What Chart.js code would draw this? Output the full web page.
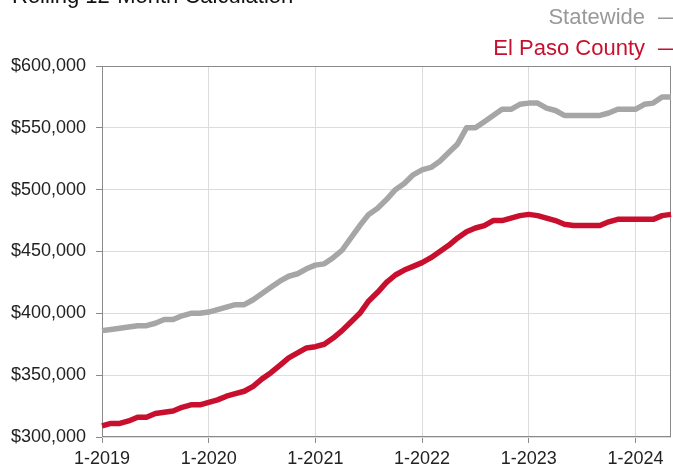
<!DOCTYPE html>
<html>
<head>
<meta charset="utf-8">
<script src="https://cdn.jsdelivr.net/npm/chart.js@4.4.1/dist/chart.umd.min.js"></script>
<style>
  body { margin: 0; background: #fff; }
  #wrap { position: relative; width: 673px; height: 466px; overflow: hidden; font-family: "Liberation Sans", Arial, sans-serif; }
  #wrap canvas { position: absolute; left: 0; top: 0; }
  .txt { position: absolute; font-size: 22px; line-height: 22px; white-space: nowrap; }
</style>
</head>
<body>
<div id="wrap">
  <canvas id="mychart" width="673" height="466"></canvas>
  <div class="txt" style="left:12px; top:-15px; color:#111;">Rolling 12-Month Calculation</div>
  <div class="txt" style="right:-7px; top:6px; color:#999;">Statewide<span style="margin-left:13px">—</span></div>
  <div class="txt" style="right:-7px; top:37px; color:#c8102e;">El Paso County<span style="margin-left:13px">—</span></div>
</div>
<script>
// months 1-2019 .. 5-2024
var years = [2019, 2020, 2021, 2022, 2023, 2024];
var months = [];
for (var y = 0; y < years.length; y++) {
    for (var m = 1; m <= 12; m++) {
        if (years[y] == 2024 && m > 5) break;
        months.push(m + '-' + years[y]);
    }
}

// median price, thousands of dollars
var statewide = [
    386, 387, 388, 389, 390, 390, 392, 395, 395, 398, 400, 400,
    401, 403, 405, 407, 407, 411, 416, 421, 426, 430, 432, 436,
    439, 440, 445, 451, 461, 471, 480, 485, 492, 500, 505, 512,
    516, 518, 523, 530, 537, 550, 550, 555, 560, 565, 565, 569,
    570, 570, 566, 564, 560, 560, 560, 560, 560, 562, 565, 565,
    565, 569, 570, 575, 575
];
var elPaso = [
    309, 311, 311, 313, 316, 316, 319, 320, 321, 324, 326, 326,
    328, 330, 333, 335, 337, 341, 347, 352, 358, 364, 368, 372,
    373, 375, 380, 386, 393, 400, 410, 417, 425, 431, 435, 438,
    441, 445, 450, 455, 461, 466, 469, 471, 475, 475, 477, 479,
    480, 479, 477, 475, 472, 471, 471, 471, 471, 474, 476, 476,
    476, 476, 476, 479, 480
];

var yTicks = [300000, 350000, 400000, 450000, 500000, 550000, 600000];

var toDollars = function (arr) {
    return arr.map(function (v) { return v * 1000; });
};

// frame round the plot area
var boxPlugin = {
    id: 'box',
    beforeDatasetsDraw: function (chart) {
        var a = chart.chartArea;
        var c = chart.ctx;
        c.save();
        c.strokeStyle = '#8a8a8a';
        c.lineWidth = 1;
        c.strokeRect(Math.round(a.left) + 0.5, Math.round(a.top) + 0.5,
            Math.round(a.right - a.left) - 1, Math.round(a.bottom - a.top) - 1);
        c.restore();
    }
};

var ctx = document.getElementById('mychart');
var chart = new Chart(ctx, {
    type: 'line',
    data: {
        labels: months,
        datasets: [{
            label: 'Statewide',
            data: toDollars(statewide),
            borderColor: '#a6a6a6',
            borderWidth: 5.5
        }, {
            label: 'El Paso County',
            data: toDollars(elPaso),
            borderColor: '#c8102e',
            borderWidth: 5.5
        }]
    },
    options: {
        responsive: false,
        animation: false,
        devicePixelRatio: 1,
        layout: { padding: { left: 0, right: 2, top: 66, bottom: 0 } },
        elements: {
            point: { radius: 0 },
            line: { tension: 0, borderJoinStyle: 'round' }
        },
        plugins: {
            legend: { display: false },
            tooltip: { enabled: false }
        },
        scales: {
            x: {
                border: { display: false },
                grid: { color: '#dcdcdc', tickColor: '#8a8a8a', tickLength: 6 },
                ticks: {
                    autoSkip: false,
                    maxRotation: 0,
                    padding: 5,
                    color: '#222',
                    font: { family: '"Liberation Sans", Arial, sans-serif', size: 18 },
                    callback: function (val, i) {
                        var lab = this.getLabelForValue(val);
                        return lab.indexOf('1-') === 0 ? lab : null;
                    }
                },
                afterFit: function (scale) { scale.height = 29; }
            },
            y: {
                min: 300000,
                max: 600000,
                border: { display: false },
                grid: { color: '#dcdcdc', tickColor: '#8a8a8a', tickLength: 6 },
                afterBuildTicks: function (scale) {
                    scale.ticks = yTicks.map(function (v) { return { value: v }; });
                },
                ticks: {
                    padding: 10,
                    color: '#222',
                    font: { family: '"Liberation Sans", Arial, sans-serif', size: 18 },
                    callback: function (v) { return '$' + v.toLocaleString('en-US'); }
                },
                afterFit: function (scale) { scale.width = 102; }
            }
        }
    },
    plugins: [boxPlugin]
});
</script>
</body>
</html>
